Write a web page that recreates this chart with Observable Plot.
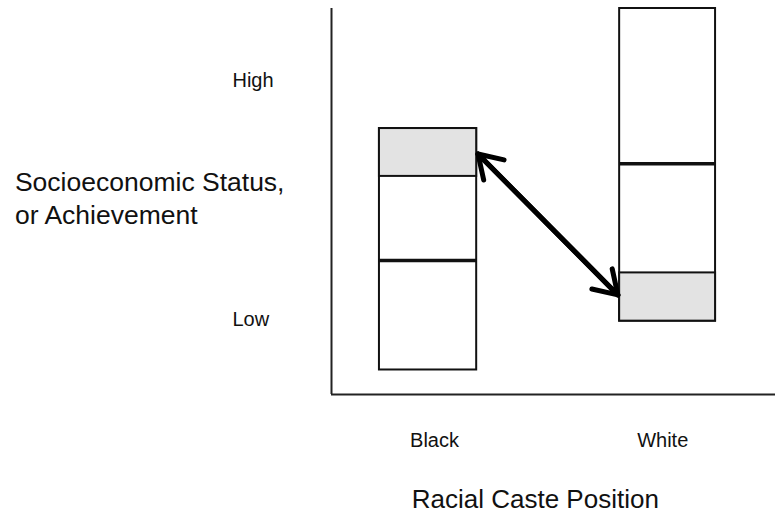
<!DOCTYPE html>
<html>
<head>
<meta charset="utf-8">
<script src="https://cdn.jsdelivr.net/npm/d3@7"></script>
<script src="https://cdn.jsdelivr.net/npm/@observablehq/plot@0.6"></script>
<style>
  html, body { margin: 0; padding: 0; background: #fff; }
</style>
</head>
<body>
<div id="chart"></div>
<script>
// Categories (racial caste position)
const groups = ["Black", "White"];
// Bar horizontal extents (x scale units, 0–100)
const barX1 = [10.8, 64.9];
const barX2 = [32.7, 86.5];
// Bar vertical extents (socioeconomic status, 0–100)
const barBottom = [6.35, 19.0];
const barTop = [68.9, 100];
// Grey shaded overlap bands
const greyLow = [56.5, 19.0];
const greyHigh = [68.9, 31.5];
// Thick median lines
const medians = [34.7, 59.8];
// Double-headed arrow endpoints
const arrowFrom = {x: 33.0, y: 62.3};
const arrowTo = {x: 64.5, y: 25.8};
// Y tick labels
const yTickLabels = ["Low", "High"];
const yTickValues = [19.4, 81.2];
const yTickX = -22.3;
// X tick labels
const xTickLabels = ["Black", "White"];
const xTickValues = [23.2, 74.6];
const xTickY = -11.9;
// Axis titles
const yTitle = "Socioeconomic Status,\nor Achievement";
const xTitle = "Racial Caste Position";

const bars = groups.map((g, i) => ({
  group: g, x1: barX1[i], x2: barX2[i], y1: barBottom[i], y2: barTop[i],
  g1: greyLow[i], g2: greyHigh[i], median: medians[i]
}));
const arrows = [
  {x1: arrowFrom.x, y1: arrowFrom.y, x2: arrowTo.x, y2: arrowTo.y},
  {x1: arrowTo.x, y1: arrowTo.y, x2: arrowFrom.x, y2: arrowFrom.y}
];
const yTicks = yTickLabels.map((t, i) => ({label: t, y: yTickValues[i]}));
const xTicks = xTickLabels.map((t, i) => ({label: t, x: xTickValues[i]}));

const font = "'Liberation Sans', Arial, Helvetica, sans-serif";

const plot = Plot.plot({
  width: 775,
  height: 516,
  marginLeft: 331,
  marginRight: 0,
  marginTop: 8,
  marginBottom: 122,
  x: {domain: [0, 100], axis: null},
  y: {domain: [0, 100], axis: null},
  style: {background: "#fff", fontFamily: font, color: "#111"},
  marks: [
    // axes lines
    Plot.ruleX([0], {y1: 0, y2: 100, stroke: "#222", strokeWidth: 2}),
    Plot.ruleY([0], {x1: 0, x2: 100, stroke: "#222", strokeWidth: 2}),
    // bars (white boxes)
    Plot.rect(bars, {x1: "x1", x2: "x2", y1: "y1", y2: "y2", fill: "#fff", stroke: "#111", strokeWidth: 2}),
    // grey bands
    Plot.rect(bars, {x1: "x1", x2: "x2", y1: "g1", y2: "g2", fill: "#e3e3e3", stroke: "#111", strokeWidth: 2}),
    // thick median lines
    Plot.ruleY(bars, {y: "median", x1: "x1", x2: "x2", stroke: "#111", strokeWidth: 3.5}),
    // double-headed arrow
    Plot.arrow(arrows, {x1: "x1", y1: "y1", x2: "x2", y2: "y2", stroke: "#000", strokeWidth: 5, headLength: 8, headAngle: 65, strokeLinecap: "round", strokeLinejoin: "round"}),
    // y tick labels
    Plot.text(yTicks, {x: yTickX, y: "y", text: "label", textAnchor: "start", fontSize: 20, fill: "#111"}),
    // x tick labels
    Plot.text(xTicks, {x: "x", y: xTickY, text: "label", fontSize: 20, fill: "#111"}),
    // axis titles
    Plot.text([yTitle], {x: -71.3, y: 51.3, text: d => d, textAnchor: "start", fontSize: 26.5, lineHeight: 1.25, fill: "#111"}),
    Plot.text([xTitle], {x: 45.9, y: -27.2, text: d => d, fontSize: 26, fill: "#111"})
  ]
});
document.getElementById("chart").appendChild(plot);
</script>
</body>
</html>
